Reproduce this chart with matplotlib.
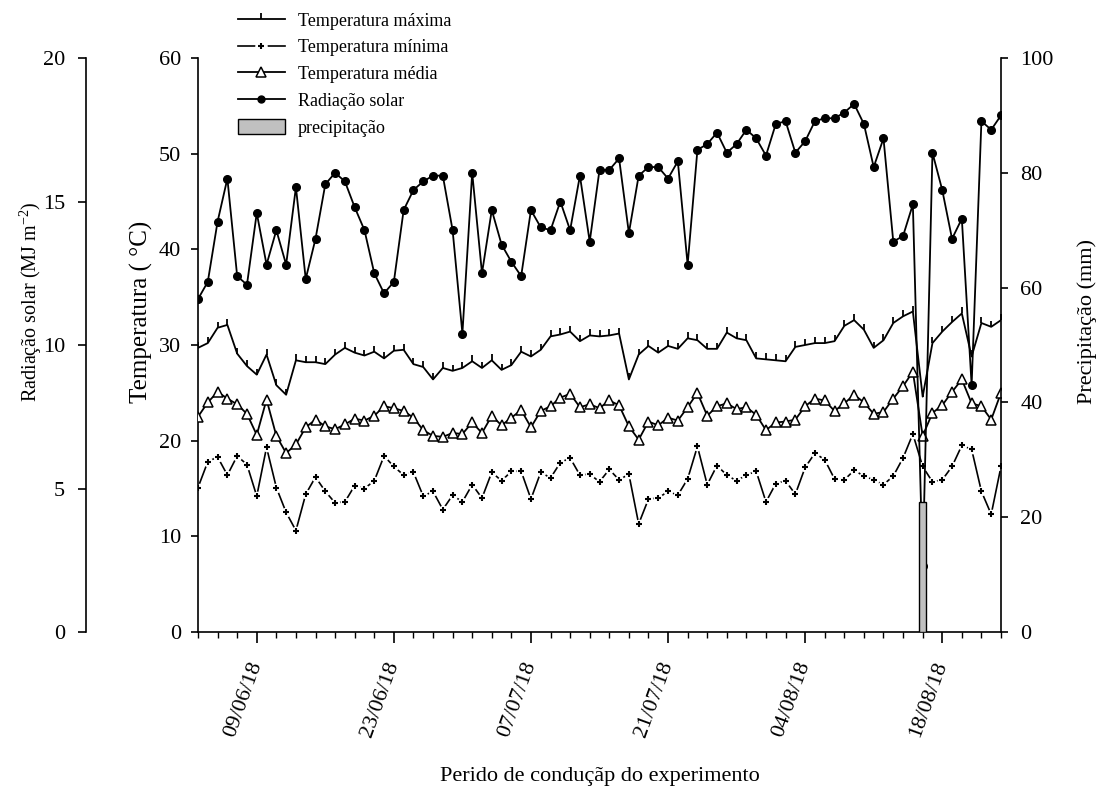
import numpy as np
import pandas as pd
import matplotlib
matplotlib.use("Agg")
import matplotlib.pyplot as plt
import matplotlib.dates as mdates
from matplotlib.lines import Line2D
from matplotlib.patches import Patch

plt.rcParams['font.family'] = ['Liberation Serif', 'DejaVu Serif']
plt.rcParams['mathtext.fontset'] = 'custom'
plt.rcParams['mathtext.rm'] = 'Liberation Serif'
plt.rcParams['mathtext.it'] = 'Liberation Serif:italic'

# ---------------- data ----------------
start_date = '2018-06-03'
n_days = 83

tmax = [29.7, 30.2, 31.8, 32.1, 29.1, 27.8, 26.9, 29.0, 25.8, 24.8,
        28.4, 28.2, 28.2, 28.0, 29.0, 29.7, 29.2, 28.9, 29.3, 28.6,
        29.4, 29.5, 28.0, 27.7, 26.4, 27.6, 27.3, 27.6, 28.3, 27.6,
        28.4, 27.4, 27.9, 29.3, 28.8, 29.5, 30.9, 31.1, 31.4, 30.4,
        31.0, 30.9, 31.0, 31.2, 26.4, 29.0, 29.9, 29.2, 29.9, 29.6,
        30.7, 30.5, 29.6, 29.6, 31.3, 30.7, 30.5, 28.6, 28.5, 28.4,
        28.3, 29.8, 30.0, 30.2, 30.2, 30.4, 32.0, 32.6, 31.6, 29.7,
        30.5, 32.3, 33.0, 33.5, 24.6, 30.2, 31.4, 32.4, 33.3, 28.8,
        32.3, 31.9, 32.6]

tmin = [15.1, 17.8, 18.3, 16.4, 18.4, 17.5, 14.2, 19.3, 15.1, 12.5,
        10.6, 14.4, 16.2, 14.7, 13.5, 13.6, 15.3, 15.0, 15.8, 18.4,
        17.3, 16.4, 16.7, 14.2, 14.7, 12.8, 14.3, 13.6, 15.4, 14.0,
        16.7, 15.8, 16.8, 16.8, 13.9, 16.7, 16.1, 17.7, 18.2, 16.4,
        16.5, 15.7, 17.0, 15.9, 16.5, 11.3, 13.9, 14.0, 14.7, 14.3,
        16.0, 19.4, 15.4, 17.4, 16.4, 15.8, 16.4, 16.8, 13.6, 15.5,
        15.8, 14.4, 17.2, 18.7, 18.0, 16.0, 15.9, 16.9, 16.3, 15.9,
        15.4, 16.3, 18.2, 20.7, 17.3, 15.7, 15.9, 17.3, 19.5, 19.1,
        14.7, 12.3, 17.3]

tmed = [22.5, 24.0, 25.1, 24.4, 23.8, 22.8, 20.6, 24.3, 20.5, 18.7,
        19.6, 21.4, 22.2, 21.5, 21.2, 21.7, 22.3, 22.1, 22.6, 23.6,
        23.4, 23.1, 22.4, 21.1, 20.5, 20.4, 20.8, 20.7, 21.9, 20.8,
        22.6, 21.6, 22.4, 23.2, 21.4, 23.1, 23.6, 24.5, 24.9, 23.5,
        23.8, 23.4, 24.2, 23.7, 21.5, 20.1, 22.0, 21.6, 22.4, 22.1,
        23.5, 25.0, 22.6, 23.6, 23.9, 23.3, 23.5, 22.7, 21.1, 21.9,
        22.0, 22.2, 23.6, 24.4, 24.2, 23.1, 23.9, 24.8, 24.0, 22.8,
        23.0, 24.4, 25.7, 27.2, 20.5, 22.9, 23.7, 25.1, 26.4, 23.9,
        23.6, 22.2, 25.0]

radiacao = [11.6, 12.2, 14.3, 15.8, 12.4, 12.1, 14.6, 12.8, 14.0, 12.8,
            15.5, 12.3, 13.7, 15.6, 16.0, 15.7, 14.8, 14.0, 12.5, 11.8,
            12.2, 14.7, 15.4, 15.7, 15.9, 15.9, 14.0, 10.4, 16.0, 12.5,
            14.7, 13.5, 12.9, 12.4, 14.7, 14.1, 14.0, 15.0, 14.0, 15.9,
            13.6, 16.1, 16.1, 16.5, 13.9, 15.9, 16.2, 16.2, 15.8, 16.4,
            12.8, 16.8, 17.0, 17.4, 16.7, 17.0, 17.5, 17.2, 16.6, 17.7,
            17.8, 16.7, 17.1, 17.8, 17.9, 17.9, 18.1, 18.4, 17.7, 16.2,
            17.2, 13.6, 13.8, 14.9, 2.3, 16.7, 15.4, 13.7, 14.4, 8.6,
            17.8, 17.5, 18.0]

precip_dates = ['2018-08-16']
precip_values = [22.7]

major_tick_dates = ['2018-06-09', '2018-06-23', '2018-07-07',
                    '2018-07-21', '2018-08-04', '2018-08-18']

legend_labels = ['Temperatura máxima', 'Temperatura mínima',
                 'Temperatura média', 'Radiação solar', 'precipitação']

dates = pd.date_range(start_date, periods=n_days, freq='D')
pdates = pd.to_datetime(precip_dates)
mdates_major = pd.to_datetime(major_tick_dates)

# ---------------- figure ----------------
W, H = 1101, 789
fig = plt.figure(figsize=(W / 100, H / 100), dpi=100)
L, R, T, B = 198, 1001, 58, 632
ax = fig.add_axes([L / W, 1 - B / H, (R - L) / W, (B - T) / H])
axr = ax.twinx()
axp = ax.twinx()
ax.set_zorder(1)
axr.set_zorder(2)
axp.set_zorder(3)
for a in (ax, axr, axp):
    a.patch.set_visible(False)

lw = 1.3
# Temperatura máxima
ax.plot(dates, tmax, color='black', lw=lw, marker=2, ms=4, mew=1.3, zorder=3)
# Temperatura mínima: line, white halo around markers, plus markers
ax.plot(dates, tmin, color='black', lw=1.2, zorder=2)
ax.plot(dates, tmin, ls='none', marker='o', ms=7, mfc='white', mec='none', zorder=2.5)
ax.plot(dates, tmin, ls='none', marker='+', ms=5, mew=1.5, color='black', zorder=3)
# Temperatura média
ax.plot(dates, tmed, color='black', lw=lw, marker='^', ms=7.5, mfc='white',
        mec='black', mew=1.1, zorder=4)
# Radiação solar
axr.plot(dates, radiacao, color='black', lw=lw, marker='o', ms=5.5, mfc='black',
         mec='black', mew=1.0, zorder=3)
# Precipitação
axp.bar(pdates, precip_values, width=0.75, color='#c0c0c0', edgecolor='black',
        lw=1.0, zorder=5)

# ---------------- axes ----------------
ax.set_xlim(dates[0], dates[-1])
ax.set_ylim(0, 60)
axr.set_ylim(0, 20)
axp.set_ylim(0, 100)

ax.set_yticks(np.arange(0, 61, 10))
axr.set_yticks(np.arange(0, 21, 5))
axp.set_yticks(np.arange(0, 101, 20))

ax.set_xticks(mdates_major)
ax.set_xticks(dates[::2], minor=True)
ax.xaxis.set_major_formatter(mdates.DateFormatter('%d/%m/%y'))
for lab in ax.get_xticklabels():
    lab.set_rotation(70)
    lab.set_ha('right')
    lab.set_va('center')
    lab.set_rotation_mode('anchor')

for a in (ax, axr, axp):
    for s in a.spines.values():
        s.set_linewidth(1.2)

ax.spines['top'].set_visible(False)
ax.spines['right'].set_visible(False)
axr.spines['top'].set_visible(False)
axr.spines['right'].set_visible(False)
axr.spines['bottom'].set_visible(False)
axr.spines['left'].set_visible(True)
axr.spines['left'].set_position(('outward', 112 * 0.72))
axr.yaxis.set_ticks_position('left')
axp.spines['top'].set_visible(False)
axp.spines['left'].set_visible(False)
axp.spines['bottom'].set_visible(False)

ax.tick_params(axis='y', direction='out', length=5, width=1.2, labelsize=16, pad=7)
axr.tick_params(axis='y', direction='out', length=6, width=1.2, labelsize=16, pad=9)
axp.tick_params(axis='y', direction='out', length=5, width=1.2, labelsize=16, pad=9)
ax.tick_params(axis='x', which='major', direction='out', length=8, width=1.2,
               labelsize=16, pad=14)
ax.tick_params(axis='x', which='minor', direction='out', length=4, width=1.0)

# ---------------- labels ----------------
fig.text(141 / W, 1 - 312 / H, 'Temperatura ( °C)', rotation=90, ha='center',
         va='center', fontsize=18)
fig.text(31 / W, 1 - 302 / H, 'Radiação solar (MJ m$^{-2}$)', rotation=90,
         ha='center', va='center', fontsize=14.5)
fig.text(1087 / W, 1 - 322 / H, 'Precipitação (mm)', rotation=90, ha='center',
         va='center', fontsize=16)
fig.text(600 / W, 1 - 776 / H, 'Perido de conduçãp do experimento', ha='center',
         va='center', fontsize=16)

# ---------------- legend ----------------
h_max = Line2D([], [], color='black', lw=lw, marker=2, ms=4, mew=1.3)
h_min = (Line2D([], [], color='black', lw=1.2),
         Line2D([], [], ls='none', marker='o', ms=9, mfc='white', mec='none'),
         Line2D([], [], ls='none', marker='+', ms=5, mew=1.5, color='black'))
h_med = Line2D([], [], color='black', lw=lw, marker='^', ms=6.5, mfc='white',
               mec='black', mew=1.1)
h_rad = Line2D([], [], color='black', lw=lw, marker='o', ms=5, mfc='black')
h_pre = Patch(facecolor='#c0c0c0', edgecolor='black', lw=1.0)
fig.legend([h_max, h_min, h_med, h_rad, h_pre], legend_labels,
           loc='upper left', bbox_to_anchor=(238 / W, 1 - 12 / H),
           frameon=False, fontsize=13, handlelength=2.6, handleheight=0.9,
           handletextpad=0.7, labelspacing=0.5, borderpad=0, borderaxespad=0)

fig.savefig('out.png', dpi=100)
